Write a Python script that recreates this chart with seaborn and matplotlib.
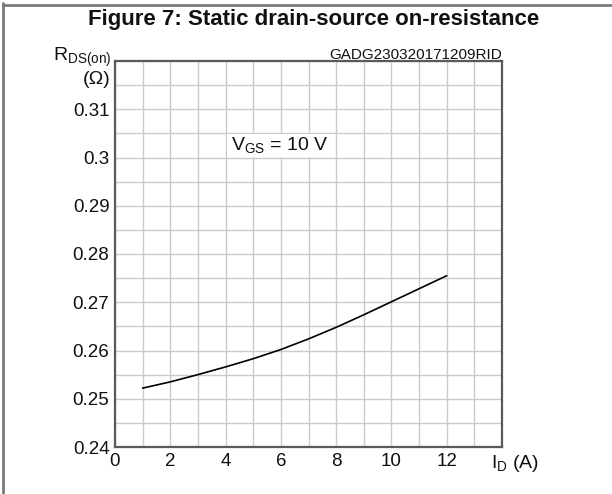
import matplotlib
matplotlib.use("Agg")
import matplotlib.pyplot as plt
from matplotlib.lines import Line2D
from matplotlib.patches import Rectangle
from matplotlib.ticker import MultipleLocator, FixedLocator, FixedFormatter
import seaborn as sns
import pandas as pd

# Drain current (A) and static drain-source on-resistance (ohm) at VGS = 10 V
drain_current = [1, 2, 3, 4, 5, 6, 7, 8, 9, 10, 11, 12]
rds_on = [0.2522, 0.2535, 0.2550, 0.2566, 0.2583, 0.2602,
          0.2624, 0.2648, 0.2674, 0.2701, 0.2728, 0.2755]

x_ticks = [0, 2, 4, 6, 8, 10, 12]
x_tick_labels = ["0", "2", "4", "6", "8", "10", "12"]
y_ticks = [0.24, 0.25, 0.26, 0.27, 0.28, 0.29, 0.30, 0.31]
y_tick_labels = ["0.24", "0.25", "0.26", "0.27", "0.28", "0.29", "0.3", "0.31"]

title = "Figure 7: Static drain-source on-resistance"
doc_id = "GADG230320171209RID"
condition = "V$_\\mathregular{GS}$ = 10 V"

sns.set_theme(style="white")
plt.rcParams["font.family"] = ["Liberation Sans", "DejaVu Sans"]
plt.rcParams["mathtext.fontset"] = "custom"
plt.rcParams["mathtext.rm"] = "Liberation Sans"
plt.rcParams["mathtext.it"] = "Liberation Sans:italic"
plt.rcParams["mathtext.bf"] = "Liberation Sans:bold"

TXT = "#111111"
df = pd.DataFrame({"ID": drain_current, "RDS": rds_on})

fig = plt.figure(figsize=(6.12, 4.94), dpi=100)
ax = fig.add_axes([115 / 612, 1 - 447 / 494, 387 / 612, 386 / 494])

sns.lineplot(data=df, x="ID", y="RDS", color="black", linewidth=1.2, ax=ax, zorder=4)

ax.set_xlim(0, 14)
ax.set_ylim(0.24, 0.32)

# grid: every 1 A and every 5 mohm
ax.xaxis.set_minor_locator(MultipleLocator(1))
ax.yaxis.set_minor_locator(MultipleLocator(0.005))
ax.grid(which="both", color="#cbcbcb", linewidth=1.0)
ax.set_axisbelow(True)

ax.xaxis.set_major_locator(FixedLocator(x_ticks))
ax.xaxis.set_major_formatter(FixedFormatter(x_tick_labels))
ax.yaxis.set_major_locator(FixedLocator(y_ticks))
ax.yaxis.set_major_formatter(FixedFormatter(y_tick_labels))
ax.tick_params(which="both", length=0, labelsize=13.5, colors=TXT, pad=4)
ax.set_xlabel("")
ax.set_ylabel("")

for s in ax.spines.values():
    s.set_color("#5a5a5a")
    s.set_linewidth(1.6)

# condition label sitting in a blanked-out grid cell
ax.add_patch(Rectangle((4.04, 0.3002), 3.92, 0.0046, facecolor="white",
                       edgecolor="none", zorder=2))
ax.text(4.2, 0.3025, condition, fontsize=14, ha="left", va="center",
        color=TXT, zorder=5)

# axis labels
ax.annotate("I$_\\mathregular{D}$ (A)", xy=(0.972, 0), xycoords="axes fraction",
            xytext=(0, -4), textcoords="offset points", ha="left", va="top",
            fontsize=14, color=TXT)
fig.text(112 / 612, 1 - 61 / 494, "R$_\\mathregular{DS(on)}$", ha="right", va="baseline",
         fontsize=14, color=TXT)
fig.text(110 / 612, 1 - 80 / 494, "(Ω)", ha="right", va="center",
         fontsize=14, color=TXT)

fig.text(502 / 612, 1 - 59 / 494, doc_id, ha="right", va="baseline",
         fontsize=11, color=TXT)
fig.text(314 / 612, 1 - 20 / 494, title, ha="center", va="center",
         fontsize=16, fontweight="bold", color=TXT)

# page border
fig.add_artist(Line2D([2.5 / 612, 2.5 / 612], [0, 1 - 3 / 494], transform=fig.transFigure,
                      color="#7a7a7a", linewidth=2))
fig.add_artist(Line2D([2.5 / 612, 1], [1 - 5 / 494, 1 - 5 / 494], transform=fig.transFigure,
                      color="#7a7a7a", linewidth=2))

fig.savefig("out.png", dpi=100)
